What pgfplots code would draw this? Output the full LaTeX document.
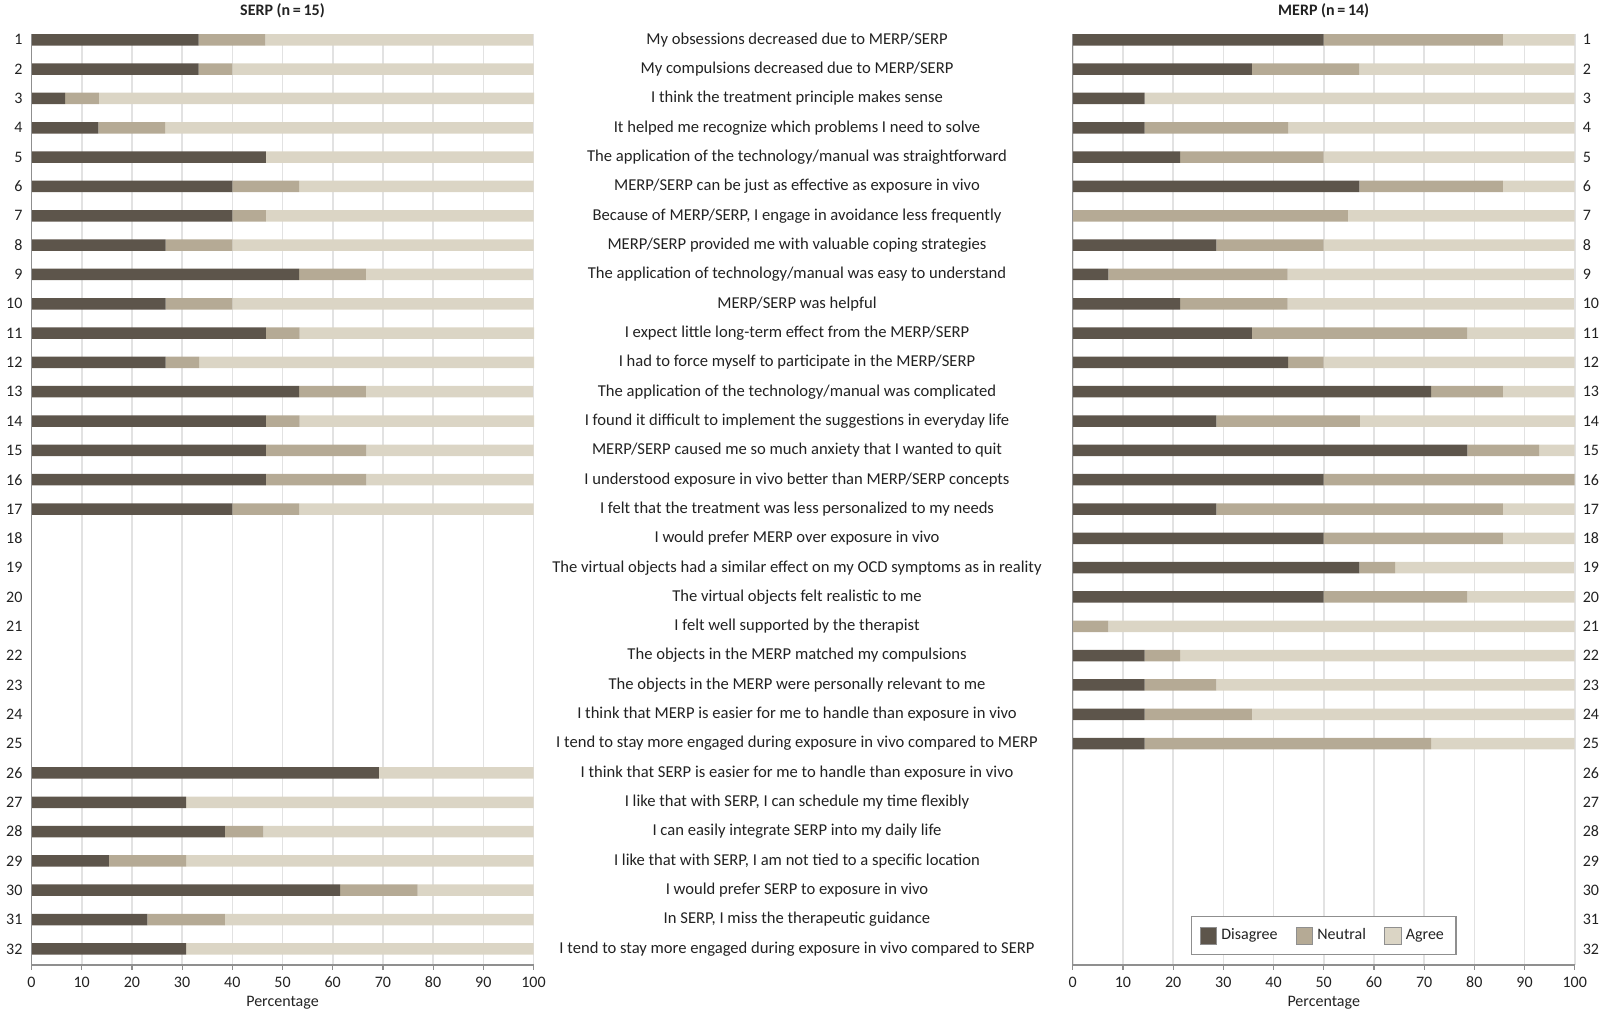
\documentclass[border=0pt]{standalone}
\usepackage{pgfplots}
\pgfplotsset{compat=1.18}
\usepackage{pgfplotstable}
\usepackage{fontspec}
\setmainfont{Carlito}

\definecolor{dis}{HTML}{5D554B}
\definecolor{neu}{HTML}{B5AA95}
\definecolor{agr}{HTML}{DBD5C5}
\definecolor{gridc}{HTML}{E2E2E2}
\definecolor{axc}{HTML}{8F8F8F}
\definecolor{txt}{HTML}{222222}

% item, disagree, neutral, agree (percent)
\pgfplotstableread{
item dis neu agr
1  33.3 13.3 53.3
2  33.3 6.7  60.0
3  6.7  6.7  86.7
4  13.3 13.3 73.3
5  46.7 0    53.3
6  40.0 13.3 46.7
7  40.0 6.7  53.3
8  26.7 13.3 60.0
9  53.3 13.3 33.3
10 26.7 13.3 60.0
11 46.7 6.7  46.7
12 26.7 6.7  66.7
13 53.3 13.3 33.3
14 46.7 6.7  46.7
15 46.7 20.0 33.3
16 46.7 20.0 33.3
17 40.0 13.3 46.7
26 69.2 0    30.8
27 30.8 0    69.2
28 38.5 7.7  53.8
29 15.4 15.4 69.2
30 61.5 15.4 23.1
31 23.1 15.4 61.5
32 30.8 0    69.2
}\serp

\pgfplotstableread{
item dis neu agr
1  50.0 35.7 14.3
2  35.7 21.4 42.9
3  14.3 0    85.7
4  14.3 28.6 57.1
5  21.4 28.6 50.0
6  57.1 28.6 14.3
7  0    54.8 45.2
8  28.6 21.4 50.0
9  7.1  35.7 57.1
10 21.4 21.4 57.1
11 35.7 42.9 21.4
12 42.9 7.1  50.0
13 71.4 14.3 14.3
14 28.6 28.6 42.9
15 78.6 14.3 7.1
16 50.0 50.0 0
17 28.6 57.1 14.3
18 50.0 35.7 14.3
19 57.1 7.1  35.7
20 50.0 28.6 21.4
21 0    7.1  92.9
22 14.3 7.1  78.6
23 14.3 14.3 71.4
24 14.3 21.4 64.3
25 14.3 57.1 28.6
}\merp

\newcommand{\fs}{\fontsize{8}{9.6}\selectfont}
\newcommand{\fm}{\fontsize{8.3}{10}\selectfont}

\pgfplotsset{likert/.style={
  width=251pt, height=465.5pt, scale only axis,
  xbar stacked, bar width=5.75pt,
  xmin=0, xmax=100, ymin=0.45, ymax=32.2,
  xtick={0,10,...,100}, ytick={1,...,32},
  yticklabels={32,31,30,29,28,27,26,25,24,23,22,21,20,19,18,17,16,15,14,13,12,11,10,9,8,7,6,5,4,3,2,1},
  xmajorgrids, grid style={gridc, line width=0.8pt},
  axis line style={draw=none},
  xtick pos=left, tick align=outside, major tick length=2.5pt,
  xtick style={axc, line width=0.6pt},
  ytick style={draw=none},
  /pgf/number format/assume math mode=true,
  ticklabel style={font=\fs, text=txt},
  xlabel={Percentage},
  xlabel style={at={(axis description cs:0.5,0)}, anchor=center, yshift=-19pt, font=\fs, text=txt},
  title style={at={(axis description cs:0.5,1)}, anchor=base, yshift=3.25pt, font=\fs\bfseries, text=txt},
  clip=false,
}}

\begin{document}
\begin{tikzpicture}
\path[use as bounding box] (-15.75pt,-25pt) rectangle (784.25pt,482.5pt);

\begin{axis}[likert, name=L, at={(0pt,0pt)}, anchor=south west,
  title={SERP (n\,=\,15)}, yticklabel pos=left,
  yticklabel style={xshift=1.5pt}]
  \addplot[fill=dis, draw=none] table[x=dis, y expr=33-\thisrow{item}] {\serp};
  \addplot[fill=neu, draw=none] table[x=neu, y expr=33-\thisrow{item}] {\serp};
  \addplot[fill=agr, draw=none] table[x=agr, y expr=33-\thisrow{item}] {\serp};
\end{axis}
\draw[axc, line width=0.6pt] (L.north west) -- (L.south west) -- (L.south east);

\begin{axis}[likert, name=R, at={(520.6pt,0pt)}, anchor=south west,
  title={MERP (n\,=\,14)}, yticklabel pos=right,
  yticklabel style={xshift=-2pt},
  legend style={at={(axis description cs:0.5,0.0315)}, anchor=center,
    legend columns=3, draw=axc, line width=0.6pt, font=\fs, text=txt,
    inner xsep=4pt, inner ysep=4pt,
    /tikz/every even column/.append style={column sep=7pt}},
  legend image code/.code={\draw[#1, draw=axc, line width=0.5pt] (0pt,-4.2pt) rectangle (8.4pt,4.2pt);}]
  \addplot[fill=dis, draw=none] table[x=dis, y expr=33-\thisrow{item}] {\merp};
  \addplot[fill=neu, draw=none] table[x=neu, y expr=33-\thisrow{item}] {\merp};
  \addplot[fill=agr, draw=none] table[x=agr, y expr=33-\thisrow{item}] {\merp};
  \legend{Disagree, Neutral, Agree}
\end{axis}
\draw[axc, line width=0.6pt] (R.north west) -- (R.south west) -- (R.south east);

\foreach \t [count=\i] in {
  My obsessions decreased due to MERP/SERP,
  My compulsions decreased due to MERP/SERP,
  I think the treatment principle makes sense,
  It helped me recognize which problems I need to solve,
  The application of the technology/manual was straightforward,
  MERP/SERP can be just as effective as exposure in vivo,
  {{Because of MERP/SERP, I engage in avoidance less frequently}},
  MERP/SERP provided me with valuable coping strategies,
  The application of technology/manual was easy to understand,
  MERP/SERP was helpful,
  I expect little long-term effect from the MERP/SERP,
  I had to force myself to participate in the MERP/SERP,
  The application of the technology/manual was complicated,
  I found it difficult to implement the suggestions in everyday life,
  MERP/SERP caused me so much anxiety that I wanted to quit,
  I understood exposure in vivo better than MERP/SERP concepts,
  I felt that the treatment was less personalized to my needs,
  I would prefer MERP over exposure in vivo,
  The virtual objects had a similar effect on my OCD symptoms as in reality,
  The virtual objects felt realistic to me,
  I felt well supported by the therapist,
  The objects in the MERP matched my compulsions,
  The objects in the MERP were personally relevant to me,
  I think that MERP is easier for me to handle than exposure in vivo,
  I tend to stay more engaged during exposure in vivo compared to MERP,
  I think that SERP is easier for me to handle than exposure in vivo,
  {{I like that with SERP, I can schedule my time flexibly}},
  I can easily integrate SERP into my daily life,
  {{I like that with SERP, I am not tied to a specific location}},
  I would prefer SERP to exposure in vivo,
  {{In SERP, I miss the therapeutic guidance}},
  I tend to stay more engaged during exposure in vivo compared to SERP}
  \node[font=\fm, text=txt, anchor=center] at (382.75pt,{(32.55-\i)*14.6614pt}) {\t};
\end{tikzpicture}
\end{document}
